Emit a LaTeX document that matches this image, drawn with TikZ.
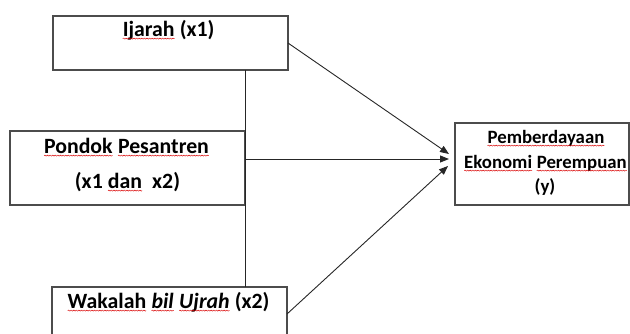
\documentclass[tikz,border=0pt]{standalone}
\usepackage{fontspec}
\setmainfont{Carlito}
\usetikzlibrary{arrows.meta,decorations.pathmorphing}
\newcommand\sqw[1]{\tikz[baseline=(w.base)]{\node[inner sep=0pt,outer sep=0pt](w){#1};\draw[red!85!black,line width=0.45pt,decorate,decoration={snake,amplitude=0.55pt,segment length=2.6pt}]([yshift=-2.6pt]w.base west)--([yshift=-2.6pt]w.base east);}}
\tikzset{
  box/.style={draw=black!70,line width=1.1pt,minimum width=#1,inner sep=0pt,outer sep=0pt},
  lbl/.style={anchor=base,inner sep=0pt,font=\fontsize{21.8}{26}\selectfont\bfseries},
  lbls/.style={lbl,font=\fontsize{18.8}{24}\selectfont\bfseries},
  conn/.style={draw=black!85,line width=0.9pt},
  arr/.style={conn,-{Triangle[length=9pt,width=7pt]}}
}
\begin{document}
\begin{tikzpicture}[x=1pt,y=-1pt]
\useasboundingbox (0,0) rectangle (630,333);
\clip (0,0) rectangle (630,333);
\node[box=235pt,minimum height=54pt] (ij) at (170.5,43) {};
\node[box=235pt,minimum height=74pt] (pd) at (127.5,168) {};
\node[box=235pt,minimum height=54pt] (wk) at (169.5,314) {};
\node[box=174pt,minimum height=82pt] (pe) at (542,164) {};
\node[lbl] (tij) at (168.5,36) {\sqw{Ijarah} (x1)};
\node[lbl] (tpd1) at (126.5,153) {\sqw{Pondok} \sqw{Pesantren}};
\node[lbl] (tpd2) at (127.5,188) {(x1 \sqw{dan}\ \ x2)};
\node[lbl] (twk) at (168.5,308) {\sqw{Wakalah} \sqw{\itshape bil} \sqw{\itshape Ujrah} (x2)};
\node[lbls] (tpe1) at (546,143) {\sqw{Pemberdayaan}};
\node[lbls] (tpe2) at (545.5,168) {\sqw{Ekonomi} \sqw{Perempuan}};
\node[lbls] (tpe3) at (545,192) {(y)};
\coordinate (t1) at (449,154);
\coordinate (t2) at (449,159);
\coordinate (t3) at (448,166);
\draw[conn] (ij.south -| pd.east) -- (wk.north -| pd.east);
\draw[arr] (ij.east) -- (t1);
\draw[arr] (pd.east |- t2) -- (t2);
\draw[arr] (wk.east) -- (t3);
\end{tikzpicture}
\end{document}
